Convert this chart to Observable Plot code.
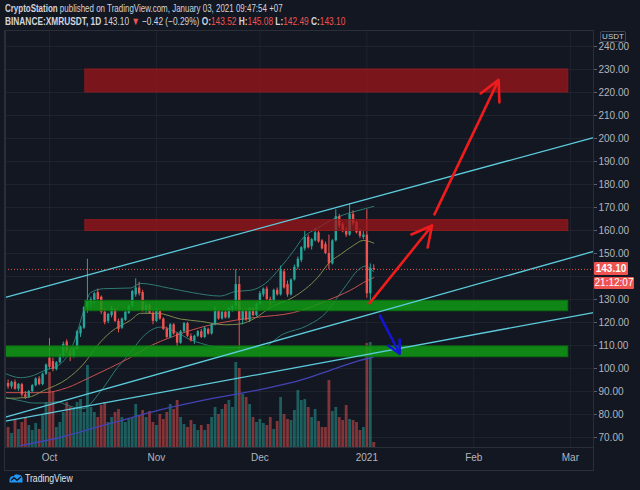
<!DOCTYPE html>
<html><head><meta charset="utf-8">
<script src="https://cdn.jsdelivr.net/npm/d3@7"></script>
<script src="https://cdn.jsdelivr.net/npm/@observablehq/plot@0.6"></script>
<style>
html,body{margin:0;padding:0;background:#131722;}
body{width:640px;height:490px;position:relative;overflow:hidden;font-family:"Liberation Sans",Arial,sans-serif;color:#d1d4dc;}
.ln{position:absolute;left:5px;white-space:nowrap;font-size:11px;line-height:13px;transform-origin:0 0;}
.r{color:#ef5350}
#chart{position:absolute;left:0;top:27px;width:640px;height:444px;}
#chart svg{position:absolute;left:0;top:0;}
.tag{position:absolute;color:#fff;font-size:10px;line-height:12px;background:#ef5350;text-align:center;border-radius:1px}
#usdt{position:absolute;left:600px;top:31px;width:24px;height:9px;font-size:8px;line-height:9px;text-align:center;color:#c8cad0;background:#131722;border:1px solid #434651;border-radius:2px}
.bd{position:absolute;background:#2a2e39}
#footer{position:absolute;left:9px;top:471px;height:14px;display:flex;align-items:center;gap:2px;font-size:11px;color:#e0e3eb;white-space:nowrap}
</style></head><body>
<div id="l1" class="ln" style="top:2px"><b>CryptoStation</b> published on TradingView.com, January 03, 2021 09:47:54 +07</div>
<div id="l2" class="ln" style="top:15px"><b>BINANCE:XMRUSDT, 1D</b> 143.10 <span class="r">▼</span> −0.42 (−0.29%) <b>O:</b><span class="r">143.52</span> <b>H:</b><span class="r">145.08</span> <b>L:</b><span class="r">142.49</span> <b>C:</b><span class="r">143.10</span></div>
<div id="chart"></div>
<div class="bd" style="left:4px;top:30px;width:1px;height:441px"></div>
<div class="bd" style="left:4px;top:470px;width:590px;height:1px"></div>
<div class="bd" style="left:593px;top:447px;width:1px;height:24px"></div>
<div id="footer"><svg width="14" height="10" viewBox="0 0 14 10"><path d="M0.5 9.5 L0.5 6 Q1.5 2.5 4.5 3.2 Q6.5 0 9.5 1.8 Q13.5 2 13.5 6.2 L13.5 9.5 Z" fill="#2196f3"/><path d="M2 7.5 L5 4.8 L8 7.3 L12 3.8" stroke="#131722" stroke-width="1.4" fill="none"/></svg><span id="tvt">TradingView</span></div>
<script>
// ---------- data (daily candles from 2020-09-19) ----------
const firstDay = "2020-09-19";
const open  = [93.5,92,94,91,93,88.5,87.5,90,92.5,95.5,93,97.5,104.5,103,99.5,102.5,105,111.5,107.5,105,108.5,115,117.5,126.5,128.5,129.5,133,131,124.5,120.5,123,125.5,120.5,117.5,121,124,127,132,135,133,125,127.5,124,120.5,125,121.5,117,113.5,119,115,111,116,119.5,114,112,114,116,113.5,117,115,119,125,121.5,124.5,122,125.5,127,136.5,121,125,121,126,123,128,132,134.5,130,129,134,132,142,136.5,132,138.5,144,147,152,157,153,155.5,159,155.5,154,150,145.5,155.5,166,162.5,160,158,167,163.5,159.5,157,158,132.5,143.52];
const high  = [95,94.5,95,93.5,93.5,90,90.5,93,96,96.5,98,102,113,104.5,103,106,111.5,112.5,108.5,109,116.5,118.5,127,147.5,131,133,134.5,131.5,125.5,124,127,126,121.5,122,125,127.5,134,139,137.5,134,128.5,128,125,126,125.5,122,118,119.5,119.5,115.5,116.5,120,120,115,114.5,116.5,117,118,117.5,119.5,127,125.5,125,125,126.5,127.5,143,140,125.5,126,126.5,126.5,128.5,133.5,135,135.5,131,134.5,135,144.5,143,138,139,145,148.5,153,160,158,156.5,161,160,156,155,158,156,169,167,163.5,161,171.5,168.5,164,160.5,159.5,169,145.5,145.08];
const low   = [91,91,90.5,90,87.5,86.5,87,89.5,92,92.5,92.5,97,99.5,98.5,99,102,104.5,106.5,103,104.5,108,113.5,117,124,126,128,129.5,123.5,119,119.5,122,120,115.5,117,120.5,123.5,126.5,131,131.5,124.5,124,123.5,119,120,121,116.5,113,113,114.5,109.5,110.5,115.5,113.5,111.5,110.5,113.5,113,113,114.5,114.5,118.5,121,121,121.5,121.5,124.5,125.5,108,119,120.5,120,122.5,122.5,127.5,131,129.5,127,128.5,131.5,131.5,134.5,131,131.5,138,143,146,151,152,151.5,155,154.5,151.5,149.5,143,145,155,161,159,157,157.5,162,158.5,156.5,156,130.5,128.5,142.49];
const close = [92,94,91,93,88.5,87.5,90,92.5,95.5,93,97.5,101.5,100.5,99.5,102.5,105.5,110.5,107.5,105,108.5,116,118,126.5,129,130,132.5,130,124.5,120,123.5,126,120.5,117,121.5,124.5,127,133.5,135,132.5,125,127.5,124,120.5,125.5,121.5,117,113.5,119,115,111,116,119.5,114,112,114,116,113.5,117.5,115,119,125.5,121.5,124.5,122,126,127,136.5,121,125,121,126,123,128,132.5,134.5,130,129,134,132,142.5,135,132,138.5,144,147.5,152.5,157,152.5,156,159,155,152,150,145.5,155.5,166,162,159.5,158,167,163,159,157.5,158,132.5,143.52,143.10];
const volume = [20,14,28,18,25,30,22,17,24,18,32,45,75,55,20,25,35,45,40,38,45,48,35,82,40,35,30,42,45,25,30,35,38,30,25,28,30,43,32,37,30,36,25,22,33,28,35,43,38,47,30,23,20,27,23,17,22,17,23,30,40,33,38,43,47,40,85,79,53,50,43,30,25,28,24,22,30,18,26,50,33,28,27,37,57,47,48,40,30,38,26,20,20,67,36,40,30,27,42,28,27,25,17,20,104,105,5];

// indicator lines: [day offset from 2020-10-01, price]
const sma20   = [[-12.75,87],[-6.4,87.4],[-1.7,90.4],[5.2,95.6],[9.9,102],[13.9,110],[17.7,115.8],[23.5,121],[26.4,124],[31.3,124],[38,121.5],[43.8,120.5],[51,119],[55,119.3],[59.7,122],[64,126.5],[70.7,131],[77.7,139.5],[81.4,146.5],[84.3,149.5],[88.1,153.5],[91,155.7],[94,154.5]];
const ma50    = [[-12.75,89.5],[-1.7,89.5],[5.2,91.7],[11,95.6],[17.7,100.4],[23.5,104.8],[27.8,108.7],[36.5,114.3],[46,118.7],[54,121],[59.7,122.2],[70.7,124.3],[80.6,129.6],[87.2,134],[92.2,138.3],[94,139.5]];
const ma200   = [[-8.4,66.5],[3,70],[15,75],[23.5,78.5],[32,82],[44,86],[60,90.5],[73,95],[81,99],[90,103.5],[94,105]];
const bbUpper = [[-12.75,97.8],[-8.4,96],[-4.6,97],[-1.7,99],[3.2,102],[7,111],[9.9,125],[11.9,133],[15.7,134.7],[23.5,135],[26.4,137],[34.5,135],[41.4,133],[49.6,131.5],[53.9,133.5],[58.3,134],[62.6,137],[67,144],[70.7,151],[73.6,157],[77.7,161],[81.4,164.3],[86.4,167.4],[91.6,169.5],[94,170.5]];
const bbLower = [[-12.75,87.4],[-8.4,86],[-4.6,85],[-1.2,85],[2.3,85.5],[5.2,84],[9.6,82.5],[14.8,90],[19.7,100.4],[23.5,107],[27.2,114],[32.2,118],[36.5,116],[40.9,112.5],[43.8,111],[48.1,109.5],[55.4,109],[61.2,109],[67.8,115],[74.8,118.7],[80.6,125],[83.5,131],[86.4,137],[89.3,142.6],[91.6,144.5],[94,142]];

// zones
const zoneFrom = [10.4, 10.4, 10.4, -12.75];
const zoneTo   = [150.4, 150.4, 150.4, 150.4];
const zoneLow  = [220, 159.8, 124.9, 104.9];
const zoneHigh = [230, 164.5, 129.4, 109.6];
const zoneType = ["resistance","resistance","support","support"];

// trend channel lines: [day1, price1, day2, price2]
const trendLines = [[-12.75,130.9,157.7,200.4],[-12.75,78.9,157.7,150.9],[-12.75,77.1,157.7,124.3]];

// arrows: [day1, price1, day2, price2, direction]
const arrows = [[92.8,128.4,110.9,162.2,"up"],[111.6,167,130.2,225.5,"up"],[95.8,123,101.5,106.4,"down"]];

const lastPrice = 143.10;
const gridTicks = [70,80,90,100,110,120,130,140,150,160,170,180,190,200,210,220,230,240];
// 140.00 is hidden behind the price tag in the reference
const axisTicks = [70,80,90,100,110,120,130,150,160,170,180,190,200,210,220,230,240];
const monthTicks = ["2020-10-01","2020-11-01","2020-12-01","2021-01-01","2021-02-01","2021-03-01"];

// ---------- build ----------
const base = new Date("2020-10-01T00:00:00Z");
const day = d => new Date(base.getTime() + d * 864e5);
const start = new Date(firstDay + "T00:00:00Z");
const candles = open.map((o, i) => ({
  date: d3.utcDay.offset(start, i), open: o, high: high[i], low: low[i], close: close[i],
  volume: volume[i], up: close[i] >= o
}));
const toPts = arr => arr.map(([d, v]) => ({date: day(d), v}));
const zones = zoneFrom.map((f, i) => ({x1: day(f), x2: day(zoneTo[i]), y1: zoneLow[i], y2: zoneHigh[i], type: zoneType[i]}));
const trends = trendLines.map(([a, b, c, d]) => ({x1: day(a), y1: b, x2: day(c), y2: d}));
const arr = arrows.map(([a, b, c, d, k]) => ({x1: day(a), y1: b, x2: day(c), y2: d, k}));
const ticksX = monthTicks.map(s => new Date(s + "T00:00:00Z"));

const W = 640, H = 444, mL = 5, mR = 47, mT = 3, mB = 24;
const xDomain = [day(-12.75), day(157.7)];
const yDomain = [65.65, 246.96];
const UP = "#26a69a", DOWN = "#ef5350";
const font = {background: "transparent", fontFamily: "Liberation Sans, Arial, sans-serif", fontSize: "10px", color: "#b2b5be"};
const common = {width: W, height: H, marginLeft: mL, marginRight: mR, marginTop: mT, marginBottom: mB, style: font};

// layer 1: grid
const gridPlot = Plot.plot({
  ...common,
  x: {type: "utc", domain: xDomain, axis: null},
  y: {domain: yDomain, axis: null},
  marks: [
    Plot.ruleY(gridTicks, {stroke: "#2a2e39", strokeOpacity: 0.55}),
    Plot.ruleX(ticksX, {stroke: "#2a2e39", strokeOpacity: 0.55})
  ]
});
// layer 2: volume
const volPlot = Plot.plot({
  ...common,
  x: {type: "utc", domain: xDomain, axis: null},
  y: {domain: [0, H - mT - mB], axis: null},
  marks: [
    Plot.ruleX(candles, {x: "date", y1: 0, y2: "volume", stroke: d => d.up ? UP : DOWN, strokeOpacity: 0.5, strokeWidth: 2.8})
  ]
});
// layer 3: price
const main = Plot.plot({
  ...common,
  x: {type: "utc", domain: xDomain},
  y: {domain: yDomain},
  marks: [
    Plot.line(toPts(ma200), {x: "date", y: "v", stroke: "#4343b5", strokeWidth: 1.3, curve: "monotone-x", clip: true}),
    Plot.line(toPts(bbUpper), {x: "date", y: "v", stroke: "#2f7a74", strokeWidth: 1, curve: "monotone-x"}),
    Plot.line(toPts(bbLower), {x: "date", y: "v", stroke: "#2f7a74", strokeWidth: 1, curve: "monotone-x"}),
    Plot.line(toPts(ma50), {x: "date", y: "v", stroke: "#c9504c", strokeWidth: 1, curve: "monotone-x"}),
    Plot.line(toPts(sma20), {x: "date", y: "v", stroke: "#7d8c4c", strokeWidth: 1, curve: "monotone-x"}),
    Plot.ruleX(candles, {x: "date", y1: "low", y2: "high", stroke: d => d.up ? UP : DOWN, strokeWidth: 1}),
    Plot.ruleX(candles, {x: "date", y1: "open", y2: "close", stroke: d => d.up ? UP : DOWN, strokeWidth: 2.4}),
    Plot.rect(zones.filter(z => z.type === "resistance"), {x1: "x1", x2: "x2", y1: "y1", y2: "y2", fill: "#a3151b", fillOpacity: 0.72, stroke: "#8a1c20", strokeWidth: 1}),
    Plot.rect(zones.filter(z => z.type === "support"), {x1: "x1", x2: "x2", y1: "y1", y2: "y2", fill: "#109a14", fillOpacity: 0.85, stroke: "#0d6e10", strokeWidth: 1}),
    Plot.link(trends, {x1: "x1", y1: "y1", x2: "x2", y2: "y2", stroke: "#5ccbdb", strokeWidth: 1.3}),
    Plot.ruleY([lastPrice], {stroke: "#ef5350", strokeDasharray: "1,2", strokeWidth: 1}),
    Plot.arrow(arr, {x1: "x1", y1: "y1", x2: "x2", y2: "y2", stroke: d => d.k === "up" ? "#ee1c1c" : "#1414d2", strokeWidth: 2.6, headLength: 13, headAngle: 55}),
    Plot.frame({stroke: "#2a2e39"}),
    Plot.axisY({anchor: "right", ticks: axisTicks, tickFormat: d => d.toFixed(2), tickSize: 3, tickPadding: 2, label: null, fontSize: 10, stroke: "#5d606b"}),
    Plot.axisX({ticks: ticksX, tickFormat: d => d.getUTCMonth() === 0 ? String(d.getUTCFullYear()) : d3.utcFormat("%b")(d), tickSize: 0, tickPadding: 6, label: null, fontSize: 10})
  ]
});
const chart = document.getElementById("chart");
chart.append(gridPlot, volPlot, main);

// price tags on the axis, placed through the y scale
const yTag = 27 + main.scale("y").apply(lastPrice);
const t1 = document.createElement("div");
t1.className = "tag"; t1.textContent = "143.10";
Object.assign(t1.style, {left: "594px", top: (yTag - 7) + "px", width: "34px", height: "13px", lineHeight: "13px", fontWeight: "bold"});
const t2 = document.createElement("div");
t2.className = "tag"; t2.textContent = "21:12:07";
Object.assign(t2.style, {left: "594px", top: (yTag + 8) + "px", width: "40px", height: "12px"});
const u = document.createElement("div"); u.id = "usdt"; u.textContent = "USDT";
document.body.append(t1, t2, u);

// condensed header text widths like the reference
function fit(id, w) { const el = document.getElementById(id); const s = w / el.scrollWidth; el.style.transform = `scaleX(${s})`; }
fit("l1", 278); fit("l2", 340);
const tv = document.getElementById("tvt"); tv.style.display = "inline-block"; tv.style.transformOrigin = "0 50%"; tv.style.transform = `scaleX(${48 / tv.offsetWidth})`;
</script>
</body></html>
